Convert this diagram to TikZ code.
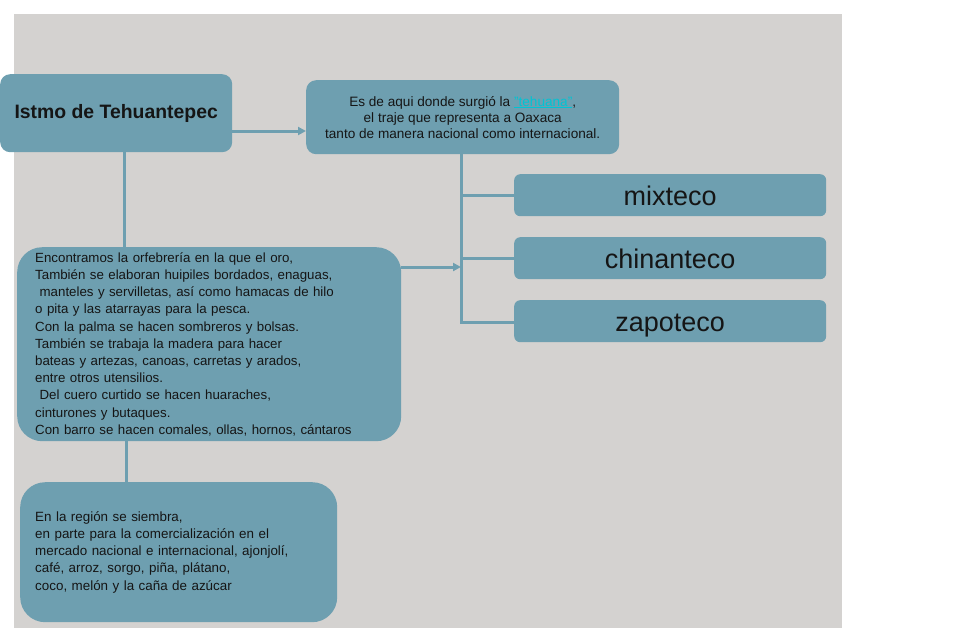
\documentclass[tikz,border=0pt]{standalone}
\usepackage{fontspec}
\setmainfont{Liberation Sans}
\usetikzlibrary{arrows.meta}
\definecolor{bg}{HTML}{D4D2D0}
\definecolor{boxc}{HTML}{6E9FB0}
\definecolor{txt}{HTML}{151515}
\definecolor{lnk}{HTML}{00C4D4}
\tikzset{
  box/.style={fill=boxc, draw=none, rounded corners=10pt, text=txt, inner sep=0pt},
  conn/.style={draw=boxc, line width=3pt},
  arr/.style={conn, -{Triangle[length=8pt,width=8pt]}},
}
\begin{document}
\begin{tikzpicture}[x=1pt,y=-1pt]
\useasboundingbox (0,0) rectangle (956,641);
\fill[bg] (14,14) rectangle (842,628);
% title
\node[box, anchor=north west, minimum width=232pt, minimum height=78pt,
  font=\fontsize{19.4}{22}\selectfont\bfseries] (ist) at (0,74) {Istmo de Tehuantepec};
% top box
\node[box, anchor=north west, minimum width=313pt, minimum height=74pt, align=center,
  font=\fontsize{13.6}{16}\selectfont] (top) at (306,80)
  {Es de aqui donde surgió la {\color{lnk}\underline{"tehuana"}},\\
   el traje que representa a Oaxaca\\
   tanto de manera nacional como internacional.};
% middle box
\node[box, rounded corners=25pt, anchor=north west, minimum width=384pt, minimum height=194pt,
  text width=348pt, inner xsep=18pt, align=left,
  font=\fontsize{13.3}{17.2}\selectfont] (mid) at (17,247)
  {Encontramos la orfebrería en la que el oro,\\
   También se elaboran huipiles bordados, enaguas,\\
   \ manteles y servilletas, así como hamacas de hilo\\
   o pita y las atarrayas para la pesca.\\
   Con la palma se hacen sombreros y bolsas.\\
   También se trabaja la madera para hacer\\
   bateas y artezas, canoas, carretas y arados,\\
   entre otros utensilios.\\
   \ Del cuero curtido se hacen huaraches,\\
   cinturones y butaques.\\
   Con barro se hacen comales, ollas, hornos, cántaros};
% bottom box
\node[box, rounded corners=25pt, anchor=north west, minimum width=317pt, minimum height=140pt,
  text width=287pt, inner xsep=15pt, align=left,
  font=\fontsize{13.4}{17.2}\selectfont] (bot) at (20,482)
  {En la región se siembra,\\
   en parte para la comercialización en el\\
   mercado nacional e internacional, ajonjolí,\\
   café, arroz, sorgo, piña, plátano,\\
   coco, melón y la caña de azúcar};
% right boxes
\tikzset{gbox/.style={box, rounded corners=6pt, anchor=north west, minimum width=312pt, minimum height=42pt,
  text height=24pt, text depth=4pt, font=\fontsize{27}{30}\selectfont}}
\node[gbox] (mix) at (514,174) {mixteco};
\node[gbox] (chi) at (514,237) {chinanteco};
\node[gbox] (zap) at (514,300) {zapoteco};
% connectors
\coordinate (tj) at (461,267);
\draw[arr] (ist.east |- 0,131) -- (top.west |- 0,131);
\draw[conn] (ist.south -| 124,0) -- (mid.north -| 124,0);
\draw[conn] (mid.south -| 126,0) -- (bot.north -| 126,0);
\draw[conn] (top.south -| 461,0) -- (461,322) -- (zap.west |- 0,322);
\draw[conn] (461,195) -- (mix.west |- 0,195);
\draw[conn] (461,258) -- (chi.west |- 0,258);
\draw[arr] (mid.east |- 0,267) -- (tj);
\end{tikzpicture}
\end{document}
